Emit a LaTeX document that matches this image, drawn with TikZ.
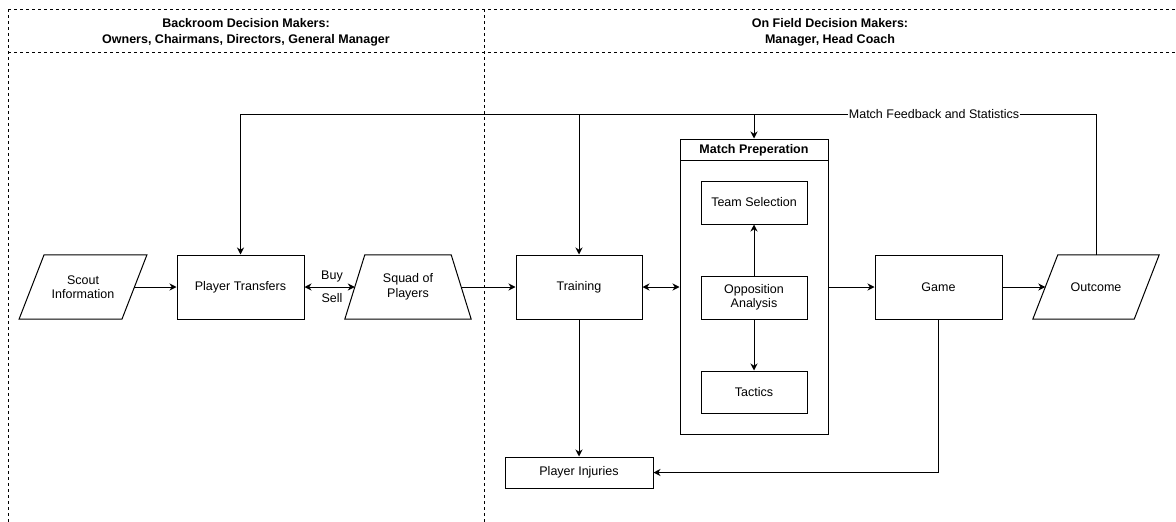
\documentclass[tikz,border=0pt]{standalone}
\usepackage{fontspec}
\setmainfont{Liberation Sans}
\usetikzlibrary{arrows.meta,calc}

\tikzset{
  txt/.style={font=\fontsize{12.5}{14.5}\selectfont, align=center, inner sep=0pt},
  boxnode/.style={txt, draw, line width=1pt, minimum width=#1},
  boxnode/.default=106pt,
  ghost/.style={txt, minimum height=64pt},
  frameline/.style={line width=0.9pt, dash pattern=on 3pt off 3pt},
  conn/.style={line width=1pt, -{Stealth[length=7pt,width=7pt,inset=2.2pt]}},
  bothconn/.style={line width=1pt, {Stealth[length=7pt,width=7pt,inset=2.2pt]}-{Stealth[length=7pt,width=7pt,inset=2.2pt]}},
  outline/.style={line width=1pt, line join=miter},
  hdr/.style={font=\fontsize{12.5}{16}\selectfont\bfseries, align=center, inner sep=0pt}
}

\begin{document}
\begin{tikzpicture}[x=1pt, y=-1pt]
\useasboundingbox (0,0) rectangle (1176,522);

% swimlane frame
\draw[frameline] (8,9) -- (1176,9);
\draw[frameline] (8,52) -- (1176,52);
\draw[frameline] (8,9) -- (8,522);
\draw[frameline] (484,9) -- (484,522);
\node[hdr] (hleft) at (246,32.5) {Backroom Decision Makers:\\Owners, Chairmans, Directors, General Manager};
\node[hdr] (hright) at (830,32.5) {On Field Decision Makers:\\Manager, Head Coach};

% input / output shapes (drawn around invisible anchor nodes)
\node[ghost, minimum width=102.5pt] (scout) at (83,287) {Scout\\Information};
\draw[outline] ($(scout.north west)+(12.5,0)$) -- ($(scout.north east)+(12.5,0)$)
  -- ($(scout.south east)+(-12.5,0)$) -- ($(scout.south west)+(-12.5,0)$) -- cycle;

\node[ghost, minimum width=106pt] (squad) at (408,287) {Squad of\\Players};
\draw[outline] ($(squad.north west)+(10,0)$) -- ($(squad.north east)+(-10,0)$)
  -- ($(squad.south east)+(10,0)$) -- ($(squad.south west)+(-10,0)$) -- cycle;

\node[ghost, minimum width=101pt] (outcome) at (1096,287) {Outcome};
\draw[outline] ($(outcome.north west)+(12.5,0)$) -- ($(outcome.north east)+(12.5,0)$)
  -- ($(outcome.south east)+(-12.5,0)$) -- ($(outcome.south west)+(-12.5,0)$) -- cycle;

% process boxes
\node[boxnode=127pt, minimum height=64pt] (transfers) at (240.5,287) {Player Transfers};
\node[boxnode=126pt, minimum height=64pt] (training) at (579,287) {Training};
\node[boxnode=127pt, minimum height=64pt] (game) at (938.5,287) {Game};
\node[boxnode=148pt, minimum height=31pt] (injuries) at (579,472.5) {Player Injuries};

% match preparation container
\node[draw, line width=1pt, minimum width=148pt, minimum height=295pt, inner sep=0pt] (prep) at (754,286.5) {};
\draw[line width=1pt] (680,160) -- (828,160);
\node[hdr] (preptitle) at (754,150) {Match Preperation};
\node[boxnode, minimum height=43pt] (team) at (754,202.5) {Team Selection};
\node[boxnode, minimum height=43pt] (opp) at (754,297.5) {Opposition\\Analysis};
\node[boxnode, minimum height=42pt] (tactics) at (754,392) {Tactics};

% main flow
\draw[conn] (scout.east) -- (transfers.west);
\draw[bothconn] (transfers.east) -- (squad.west);
\node[txt] (buy) at (332,276) {Buy};
\node[txt] (sell) at (332,298) {Sell};
\draw[conn] (squad.east) -- (training.west);
\draw[bothconn] (training.east) -- (training.east -| prep.west);
\draw[conn] (game.west -| prep.east) -- (game.west);
\draw[conn] (game.east) -- (outcome.west);

% inside match preparation
\draw[conn] (opp.north) -- (team.south);
\draw[conn] (opp.south) -- (tactics.north);

% injuries
\draw[conn] (training.south) -- (injuries.north);
\draw[conn] (game.south) |- (injuries.east);

% feedback loop
\coordinate (fb) at (0,114);
\draw[conn] (outcome.north) -- (outcome.north |- fb) -- (transfers.north |- fb) -- (transfers.north);
\draw[conn] (training.north |- fb) -- (training.north);
\draw[conn] (prep.north |- fb) -- (prep.north);
\node[txt, fill=white, inner xsep=0.5pt] (fblabel) at (934,114) {Match Feedback and Statistics};

\end{tikzpicture}
\end{document}
